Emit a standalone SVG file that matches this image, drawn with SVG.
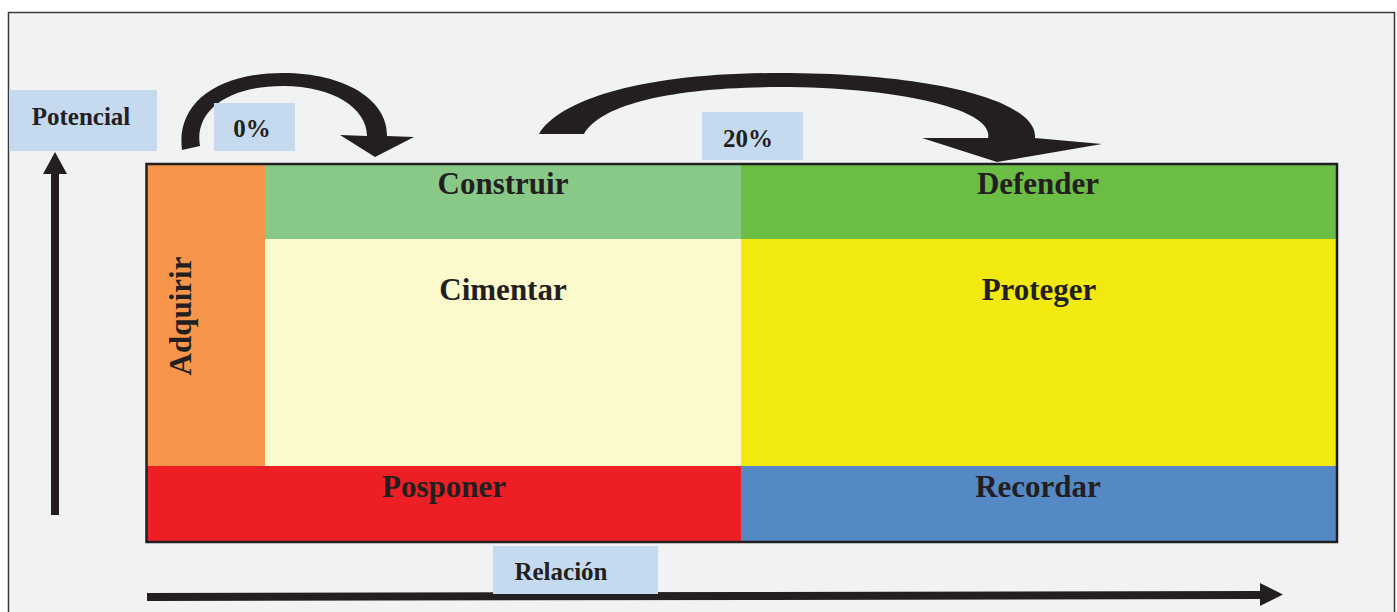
<svg xmlns="http://www.w3.org/2000/svg" width="1397" height="612" viewBox="0 0 1397 612">
<defs>
<style>
.big{font-family:"Liberation Serif","Times New Roman",serif;font-weight:bold;font-size:31px;fill:#231f20;text-anchor:middle}
.small{font-family:"Liberation Serif","Times New Roman",serif;font-weight:bold;font-size:25px;fill:#231f20;text-anchor:middle}
.lbl{fill:#c5daee}
.ink{fill:#231f20}
</style>
</defs>
<rect x="0" y="0" width="1397" height="612" fill="#ffffff"/>
<rect x="8.5" y="12.5" width="1386" height="620" fill="#f1f2f4" stroke="#3a3a3a" stroke-width="1.5"/>

<g id="matrix">
<g id="adquirir"><rect x="146" y="164" width="119" height="302" fill="#f7964a"/>
<text class="big" transform="translate(191,316) rotate(-90)">Adquirir</text></g>
<g id="construir"><rect x="265" y="164" width="476" height="75" fill="#88c988"/>
<text class="big" x="503" y="194">Construir</text></g>
<g id="defender"><rect x="741" y="164" width="596" height="75" fill="#6bbd45"/>
<text class="big" x="1038" y="194">Defender</text></g>
<g id="cimentar"><rect x="265" y="239" width="476" height="227" fill="#fcf9cd"/>
<text class="big" x="503" y="300">Cimentar</text></g>
<g id="proteger"><rect x="741" y="239" width="596" height="227" fill="#f2ea0f"/>
<text class="big" x="1039" y="300">Proteger</text></g>
<g id="posponer"><rect x="146" y="466" width="595" height="76" fill="#ed1f24"/>
<text class="big" x="444" y="497">Posponer</text></g>
<g id="recordar"><rect x="741" y="466" width="596" height="76" fill="#5589c6"/>
<text class="big" x="1038" y="497">Recordar</text></g>
<rect x="146.5" y="164" width="1190.5" height="378" fill="none" stroke="#231f20" stroke-width="2.5"/>
</g>

<g id="connectors">
<path class="ink" d="M51,515 L51,174 L43,174 L55,152 L67,174 L59,174 L59,515 Z"/>
<path class="ink" d="M147,593 L1260,591 L1260,583 L1283,594.5 L1260,606 L1260,599 L147,601 Z"/>
<path class="ink" d="M182,150 C176,105 215,73 283,73 C345,73 388,100 387,136 L414,137 L375,157 L340,135 L367,136 C367,108 333,86 283,86 C226,86 194,112 200,146 Z"/>
<path class="ink" d="M539,134 C560,100 640,73 780,73 C930,73 1038,100 1035,138 L1102,144 L997,162 L922,138 L988,138 C995,110 900,87 780,87 C670,87 600,105 584,134 Z"/>
</g>

<g id="potencial"><rect class="lbl" x="9" y="90" width="148" height="61"/>
<text class="small" x="81" y="125">Potencial</text></g>
<g id="pct0"><rect class="lbl" x="214" y="103" width="81" height="48"/>
<text class="small" x="252" y="137">0%</text></g>
<g id="pct20"><rect class="lbl" x="702" y="112" width="101" height="48"/>
<text class="small" x="748" y="147">20%</text></g>
<g id="relacion"><rect class="lbl" x="493" y="546" width="165" height="48"/>
<text class="small" x="561" y="580">Relación</text></g>
</svg>
